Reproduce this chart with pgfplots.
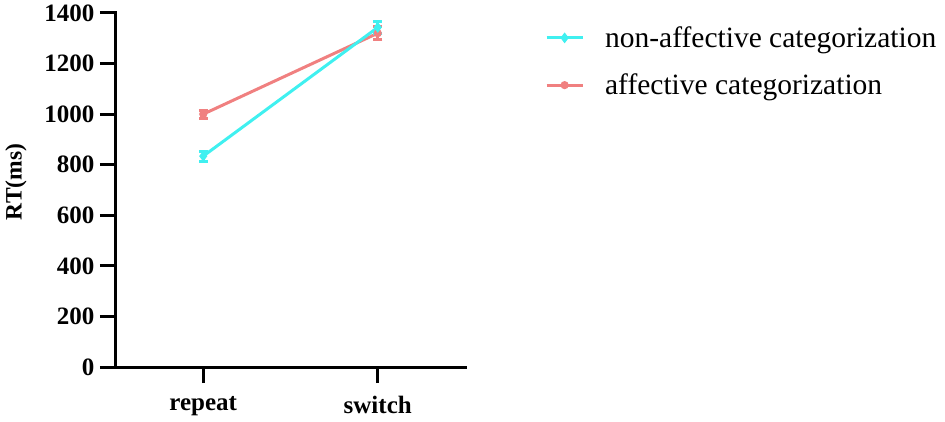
\documentclass[border=0pt]{standalone}
\usepackage{pgfplots}
\pgfplotsset{compat=1.18}
\usepackage{fontspec}
\setmainfont{Liberation Serif}
\definecolor{cyanline}{RGB}{64,240,240}
\definecolor{redline}{RGB}{240,128,128}
\pgfplotsset{major tick length=16pt, tickwidth=16pt}
\begin{document}
\begin{tikzpicture}
\useasboundingbox (0,0) rectangle (945pt,421pt);
\begin{axis}[
  at={(116pt,54pt)}, anchor=origin,
  scale only axis, width=349pt, height=354pt,
  xmin=0.5, xmax=2.5, ymin=0, ymax=1400,
  axis lines*=left,
  axis line style={line width=3pt, line cap=rect},
  xtick={1,2}, xticklabels={repeat,switch},
  ytick={0,200,...,1400},
  tick align=outside,
  tickwidth=16pt,
  every tick/.style={line width=3pt, black, line cap=butt},
  /pgf/number format/assume math mode=true,
  /pgf/number format/1000 sep={},
  ticklabel style={font=\fontsize{25}{29}\selectfont\bfseries},
  xticklabel style={yshift=-10pt},
  yticklabel style={xshift=-2pt},
  ylabel={RT(ms)},
  ylabel style={at={(axis description cs:-0.2865,0.5226)}, anchor=center,
    font=\fontsize{23.5}{27}\selectfont\bfseries},
  legend style={at={(axis description cs:1.229,0.863)}, anchor=west, draw=none, fill=none,
    font=\fontsize{29.5}{34}\selectfont, row sep=25pt, inner sep=0pt,
    nodes={inner sep=0pt}, column sep=21pt},
  legend cell align=left,
  legend image code/.code={\draw[#1, mark repeat=2, mark phase=2] plot coordinates {(0pt,0pt) (18pt,0pt) (36pt,0pt)};},
  reverse legend,
  clip=false,
]
\addplot[redline, line width=3pt, mark=*, mark size=2.5pt,
  error bars/.cd, y dir=both, y explicit,
  error bar style={line width=3pt}, error mark options={line width=3pt, mark size=4.5pt, rotate=90}]
  coordinates {(1,1000) +- (0,16) (2,1320) +- (0,25)};
\addlegendentry{affective categorization}
\addplot[cyanline, line width=3pt, mark=diamond*, mark size=3pt,
  error bars/.cd, y dir=both, y explicit,
  error bar style={line width=3pt}, error mark options={line width=3pt, mark size=4.5pt, rotate=90}]
  coordinates {(1,834) +- (0,20) (2,1343) +- (0,24)};
\addlegendentry{non-affective categorization}
\end{axis}
\end{tikzpicture}
\end{document}
